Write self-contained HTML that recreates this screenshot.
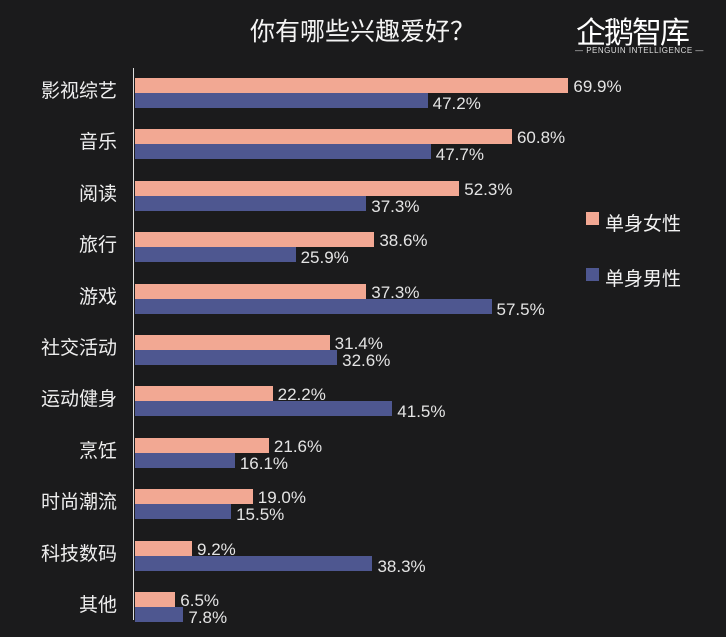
<!DOCTYPE html>
<html><head><meta charset="utf-8"><style>
body{margin:0;width:726px;height:637px;background:#1b1b1c;overflow:hidden;font-family:"Liberation Sans","Noto Sans CJK SC",sans-serif;color:#f2f2f2;position:relative}
.a{position:absolute}
.f{position:absolute;left:135px;height:15px;background:#f2a893}
.m{position:absolute;left:135px;height:15px;background:#4e5790}
.v{position:absolute;font-size:17px;color:#e4e4e4;line-height:17px}
.c{position:absolute;right:609px;font-size:19px;color:#eee;white-space:nowrap;line-height:20px}
</style></head><body>
<div class="a" style="left:250px;top:12px;font-size:25px;color:#f4f4f4">你有哪些兴趣爱好？</div>
<div class="a" style="left:576px;top:8px;font-size:30px;color:#fff;letter-spacing:-2px">企鹅智库</div>
<div class="a" style="left:575px;top:46px;font-size:8px;color:#ddd;letter-spacing:0.5px">— PENGUIN INTELLIGENCE —</div>
<div class="a" style="left:133px;top:68px;width:1px;height:552px;background:#ddd"></div>
<div class="a" style="left:586px;top:212px;width:13px;height:13px;background:#f2a893"></div>
<div class="a" style="left:605px;top:209px;font-size:19px">单身女性</div>
<div class="a" style="left:586px;top:268px;width:13px;height:13px;background:#4e5790"></div>
<div class="a" style="left:605px;top:264px;font-size:19px">单身男性</div>
<div id="c"></div>
<script>
var d=[["影视综艺",69.9,47.2],["音乐",60.8,47.7],["阅读",52.3,37.3],["旅行",38.6,25.9],["游戏",37.3,57.5],["社交活动",31.4,32.6],["运动健身",22.2,41.5],["烹饪",21.6,16.1],["时尚潮流",19.0,15.5],["科技数码",9.2,38.3],["其他",6.5,7.8]];
var h="",k=6.2;
d.forEach(function(r,i){var y=78+51.4*i;
h+='<div class="c" style="top:'+(y+4)+'px">'+r[0]+'</div>';
h+='<div class="f" style="top:'+y+'px;width:'+(r[1]*k)+'px"></div>';
h+='<div class="m" style="top:'+(y+15)+'px;width:'+(r[2]*k)+'px"></div>';
h+='<div class="v" style="top:'+(y)+'px;left:'+(140+r[1]*k)+'px">'+r[1].toFixed(1)+'%</div>';
h+='<div class="v" style="top:'+(y+17)+'px;left:'+(140+r[2]*k)+'px">'+r[2].toFixed(1)+'%</div>';});
document.getElementById("c").innerHTML=h;
</script>
</body></html>
